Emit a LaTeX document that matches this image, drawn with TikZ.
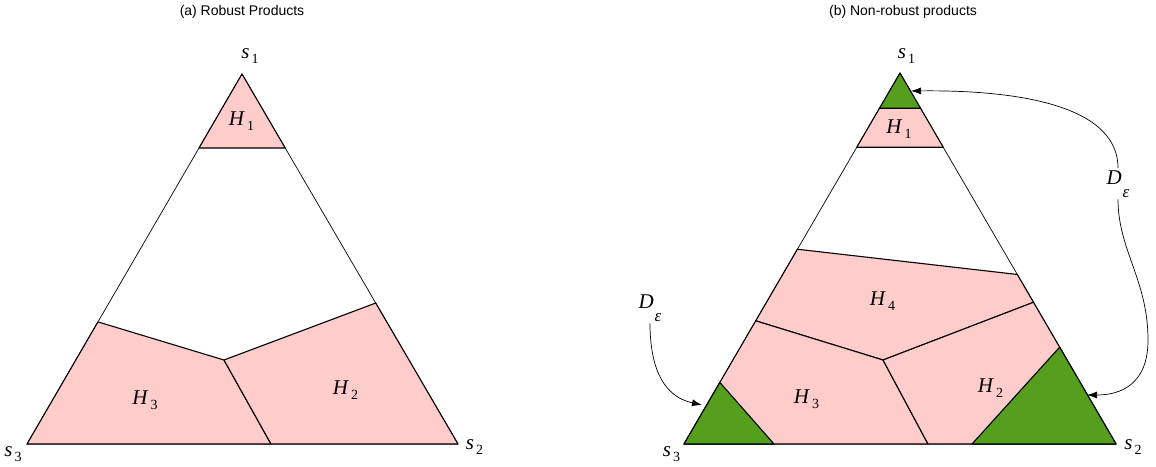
\documentclass[tikz,border=0pt]{standalone}
\usepackage{fontspec}
\setmainfont{Liberation Serif}
\newfontfamily\titlefont{Liberation Sans}
\usetikzlibrary{arrows.meta,calc}

\definecolor{pinkreg}{RGB}{255,204,204}
\definecolor{greenreg}{RGB}{86,158,30}

% label with a lowered index
\newcommand{\lbl}[2]{\textit{#1}\kern2pt\raisebox{-5pt}{\fontsize{14}{16}\selectfont #2}}
\newcommand{\lbleps}{\textit{D}\kern1pt\raisebox{-13pt}{\fontsize{17}{19}\selectfont\textit{ε}}}

\begin{document}
\begin{tikzpicture}[x=1pt,y=-1pt,
    region/.style={fill=pinkreg, draw=black, line width=1.1pt, line join=round},
    corner/.style={fill=greenreg, draw=black, line width=1.1pt, line join=round},
    edge/.style={draw=black, line width=0.7pt},
    lab/.style={font=\fontsize{21}{24}\selectfont, inner sep=0pt, anchor=base},
    dlab/.style={font=\fontsize{21}{24}\selectfont, inner sep=2pt, anchor=base},
    title/.style={font=\titlefont\fontsize{14}{16}\selectfont, inner sep=0pt},
    pointer/.style={-{Latex[length=10pt,width=7pt]}, line width=0.7pt}]
  \useasboundingbox (0,0) rectangle (1156,466);

  % Titles
  \node[title] (ta) at (242,12) {(a) Robust Products};
  \node[title] (tb) at (903,12) {(b) Non-robust products};

  % Left simplex
  \coordinate (a1) at (242,74);
  \coordinate (a2) at (458,444);
  \coordinate (a3) at (27,444);
  \coordinate (a1l) at ($(a1)!0.2!(a3)$);
  \coordinate (a1r) at ($(a1)!0.2!(a2)$);
  \coordinate (a3e) at ($(a1)!0.67!(a3)$);
  \coordinate (a2e) at ($(a1)!0.619!(a2)$);
  \coordinate (ac) at (224,360);
  \coordinate (ab) at (271,444);

  \draw[edge] (a1) -- (a2) -- (a3) -- cycle;
  \draw[region] (a1) -- (a1r) -- (a1l) -- cycle;
  \draw[region] (a3e) -- (ac) -- (ab) -- (a3) -- cycle;
  \draw[region] (a2e) -- (ac) -- (ab) -- (a2) -- cycle;

  \node[lab] (ah1) at (241.5,125) {\lbl{H}{1}};
  \node[lab] (ah3) at (145,404) {\lbl{H}{3}};
  \node[lab] (ah2) at (345.5,394) {\lbl{H}{2}};
  \node[lab] (as1) at (250,58) {\lbl{s}{1}};
  \node[lab] (as3) at (13,456) {\lbl{s}{3}};
  \node[lab] (as2) at (474.5,449) {\lbl{s}{2}};

  % Right simplex
  \coordinate (b1) at (900,73);
  \coordinate (b2) at (1116,444);
  \coordinate (b3) at (684,444);
  \coordinate (b0l) at ($(b1)!0.095!(b3)$);
  \coordinate (b0r) at ($(b1)!0.095!(b2)$);
  \coordinate (b1l) at ($(b1)!0.2!(b3)$);
  \coordinate (b1r) at ($(b1)!0.2!(b2)$);
  \coordinate (b4l) at ($(b1)!0.475!(b3)$);
  \coordinate (b4r) at ($(b1)!0.543!(b2)$);
  \coordinate (b2e) at ($(b1)!0.618!(b2)$);
  \coordinate (b3e) at ($(b1)!0.668!(b3)$);
  \coordinate (bc) at (883,360);
  \coordinate (bb) at (928,444);
  \coordinate (g3e) at ($(b1)!0.834!(b3)$);
  \coordinate (g3b) at (774,444);
  \coordinate (g2e) at ($(b1)!0.739!(b2)$);
  \coordinate (g2b) at (972,444);

  \draw[edge] (b1) -- (b2) -- (b3) -- cycle;
  \draw[region] (b0l) -- (b0r) -- (b1r) -- (b1l) -- cycle;
  \draw[region] (b4l) -- (b4r) -- (b2e) -- (bc) -- (b3e) -- cycle;
  \draw[region] (b3e) -- (bc) -- (bb) -- (b3) -- cycle;
  \draw[region] (b2e) -- (bc) -- (bb) -- (b2) -- cycle;
  \draw[corner] (b1) -- (b0r) -- (b0l) -- cycle;
  \draw[corner] (b3) -- (g3e) -- (g3b) -- cycle;
  \draw[corner] (b2) -- (g2e) -- (g2b) -- cycle;

  \node[lab] (bh1) at (899,133) {\lbl{H}{1}};
  \node[lab] (bh4) at (882.5,305) {\lbl{H}{4}};
  \node[lab] (bh3) at (806.5,403) {\lbl{H}{3}};
  \node[lab] (bh2) at (990.5,392) {\lbl{H}{2}};
  \node[lab] (bs1) at (906.5,58) {\lbl{s}{1}};
  \node[lab] (bs3) at (671.5,456) {\lbl{s}{3}};
  \node[lab] (bs2) at (1133,449) {\lbl{s}{2}};

  % Pointers to the corner regions
  \coordinate (tipt) at (911,91);
  \coordinate (tipl) at (702,405);
  \coordinate (tipr) at (1087,395);
  \node[dlab] (del) at (650,308) {\lbleps};
  \node[dlab] (der) at (1118,184) {\lbleps};

  \draw[pointer] (del.south) .. controls (650,390) and (680,400) .. (tipl);
  \draw[pointer] (der.north) .. controls (1118,100) and (1000,90) .. (tipt);
  \draw[pointer] (der.south) .. controls (1118,250) and (1148,280) .. (1148,340)
    .. controls (1148,385) and (1120,395) .. (tipr);
\end{tikzpicture}
\end{document}
